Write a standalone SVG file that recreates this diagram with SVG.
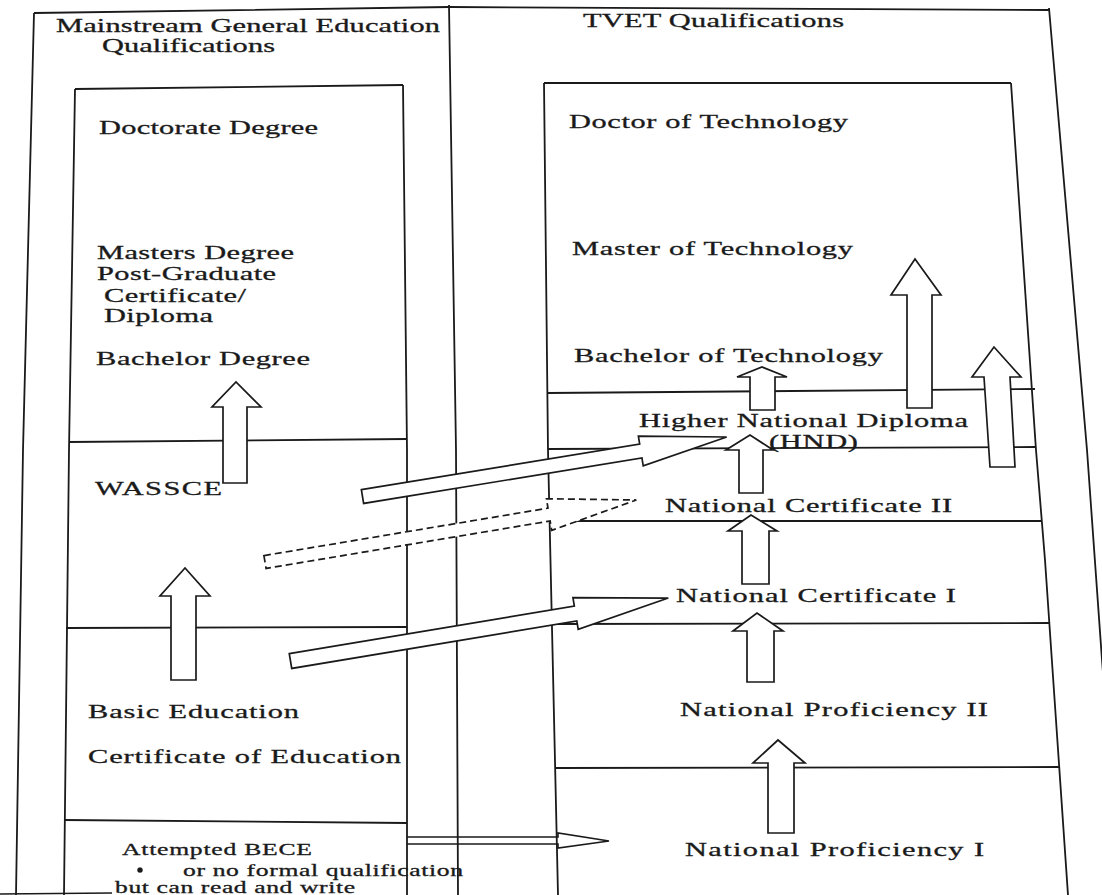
<svg xmlns="http://www.w3.org/2000/svg" width="1102" height="895" viewBox="0 0 1102 895">
<style>
.ln{fill:none;stroke:#1a1a1a;stroke-width:1.8}
.thin{fill:none;stroke:#1a1a1a;stroke-width:1.3}
.ar{fill:#fff;stroke:#1a1a1a;stroke-width:1.7;stroke-linejoin:miter}
.arn{fill:none;stroke:#1a1a1a;stroke-width:1.6}
.dash{stroke-dasharray:7 4}
.t{font-family:"Liberation Serif","Times New Roman",serif;font-size:19px;fill:#1a1a1a;stroke:#1a1a1a;stroke-width:0.3}
.s{font-size:16px}
</style>
<rect width="1102" height="895" fill="#fff"/>
<g id="frame">
<polyline class="ln" points="34,13 449,7 1049,10"/>
<polyline class="ln" points="34,13 23,450 16,895"/>
<polyline class="ln" points="449,5 456,450 458,895"/>
<polyline class="ln" points="1049,8 1087,450 1102,660 1120,895"/>
<line class="thin" x1="0" y1="894" x2="112" y2="893"/>
</g>
<g id="general-column">
<polyline class="ln" points="75,89 403,85"/>
<polyline class="ln" points="75,89 69,450 64,895"/>
<polyline class="ln" points="403,85 407,450 407,895"/>
<line class="ln" x1="69" y1="442" x2="407" y2="439"/>
<line class="ln" x1="66" y1="628" x2="407" y2="627"/>
<line class="ln" x1="64" y1="820" x2="407" y2="823"/>
</g>
<g id="tvet-column">
<polyline class="ln" points="544,83 1011,83"/>
<polyline class="ln" points="544,83 548,450 558,895"/>
<polyline class="ln" points="1011,83 1036,450 1045,560 1068,895"/>
<line class="ln" x1="548" y1="393" x2="1035" y2="389"/>
<line class="ln" x1="548" y1="449" x2="1036" y2="447"/>
<line class="ln" x1="550" y1="521" x2="1042" y2="521"/>
<line class="ln" x1="551" y1="624" x2="1049" y2="623"/>
<line class="ln" x1="555" y1="768" x2="1060" y2="767"/>
</g>
<g id="connectors">
<polyline class="arn" points="407,837 558,837 558,833 609,841 558,848 558,844 407,844"/>
<path class="ar" d="M223,483 L223,407 L212,407 L236,382 L261,407 L247,407 L247,483 Z"/>
<path class="ar" d="M171,680 L171,596 L160,596 L185,568 L210,596 L196,596 L196,680 Z"/>
<path class="ar" d="M750,410 L750,377 L737,377 L762,367 L787,377 L775,377 L775,410 Z"/>
<path class="ar" d="M907,408 L907,295 L891,295 L915,259 L941,295 L932,295 L932,408 Z"/>
<path class="ar" d="M990,467 L984,377 L972,377 L994,347 L1021,377 L1010,377 L1015,467 Z"/>
<path class="ar" d="M739,493 L739,450 L726,450 L750,435 L773,450 L763,450 L763,493 Z"/>
<path class="ar" d="M742,584 L742,531 L728,531 L751,515 L777,531 L769,531 L769,584 Z"/>
<path class="ar" d="M747,682 L747,631 L733,631 L757,613 L783,631 L774,631 L774,682 Z"/>
<path class="ar" d="M768,833 L768,763 L753,763 L778,740 L805,763 L794,763 L794,833 Z"/>
<path class="ar" transform="translate(362.5,496.5) rotate(-9.28)" d="M0,-7 H282 V-15 L369,0 L282,15 V7 H0 Z"/>
<path class="ar" transform="translate(290.5,661) rotate(-9.46)" d="M0,-7.5 H289 V-16 L383,0 L289,16 V7.5 H0 Z"/>
<path class="ar dash" transform="translate(265,562) rotate(-9.48)" d="M0,-6.5 H288 V-16 L376.5,0 L288,16 V6.5 H0 Z"/>
</g>
<g id="left-title" class="t">
<text transform="translate(56,32) scale(1.6,1)" textLength="240" lengthAdjust="spacing">Mainstream General Education</text>
<text transform="translate(102,52) scale(1.6,1)" textLength="108.1" lengthAdjust="spacing">Qualifications</text>
</g>
<g id="tvet-title" class="t">
<text transform="translate(583,27) scale(1.6,1)" textLength="163.1" lengthAdjust="spacing">TVET Qualifications</text>
</g>
<g id="doctorate" class="t"><text transform="translate(99,134) scale(1.6,1)" textLength="136.9" lengthAdjust="spacing">Doctorate Degree</text></g>
<g id="masters" class="t">
<text transform="translate(97,259) scale(1.6,1)" textLength="123.1" lengthAdjust="spacing">Masters Degree</text>
<text transform="translate(97,280) scale(1.6,1)" textLength="111.9" lengthAdjust="spacing">Post-Graduate</text>
<text transform="translate(104,302) scale(1.6,1)" textLength="88.75" lengthAdjust="spacing">Certificate/</text>
<text transform="translate(104,322) scale(1.6,1)" textLength="68.1" lengthAdjust="spacing">Diploma</text>
</g>
<g id="bachelor" class="t"><text transform="translate(96,365) scale(1.6,1)" textLength="133.75" lengthAdjust="spacing">Bachelor Degree</text></g>
<g id="wassce" class="t"><text transform="translate(95,495) scale(1.6,1)" textLength="79.4" lengthAdjust="spacing">WASSCE</text></g>
<g id="basic" class="t">
<text transform="translate(88,718) scale(1.6,1)" textLength="131.9" lengthAdjust="spacing">Basic Education</text>
<text transform="translate(88,763) scale(1.6,1)" textLength="195.6" lengthAdjust="spacing">Certificate of Education</text>
</g>
<g id="attempted" class="t s">
<text transform="translate(122,855) scale(1.6,1)" textLength="118.75" lengthAdjust="spacing">Attempted BECE</text>
<circle cx="140" cy="870" r="2.6" fill="#1a1a1a"/>
<text transform="translate(183,876) scale(1.6,1)" textLength="175" lengthAdjust="spacing">or no formal qualification</text>
<text transform="translate(115,893) scale(1.6,1)" textLength="150" lengthAdjust="spacing">but can read and write</text>
</g>
<g id="doctor-tech" class="t"><text transform="translate(569,128) scale(1.6,1)" textLength="174.4" lengthAdjust="spacing">Doctor of Technology</text></g>
<g id="master-tech" class="t"><text transform="translate(572,255) scale(1.6,1)" textLength="175.6" lengthAdjust="spacing">Master of Technology</text></g>
<g id="bachelor-tech" class="t"><text transform="translate(574,362) scale(1.6,1)" textLength="193.1" lengthAdjust="spacing">Bachelor of Technology</text></g>
<g id="hnd" class="t">
<text transform="translate(639,427) scale(1.6,1)" textLength="205.6" lengthAdjust="spacing">Higher National Diploma</text>
<text transform="translate(769,448) scale(1.6,1)" textLength="55.6" lengthAdjust="spacing">(HND)</text>
</g>
<g id="nc2" class="t"><text transform="translate(665,512) scale(1.6,1)" textLength="179.4" lengthAdjust="spacing">National Certificate II</text></g>
<g id="nc1" class="t"><text transform="translate(676,602) scale(1.6,1)" textLength="175" lengthAdjust="spacing">National Certificate I</text></g>
<g id="np2" class="t"><text transform="translate(680,716) scale(1.6,1)" textLength="192.5" lengthAdjust="spacing">National Proficiency II</text></g>
<g id="np1" class="t"><text transform="translate(685,856) scale(1.6,1)" textLength="186.9" lengthAdjust="spacing">National Proficiency I</text></g>
</svg>
